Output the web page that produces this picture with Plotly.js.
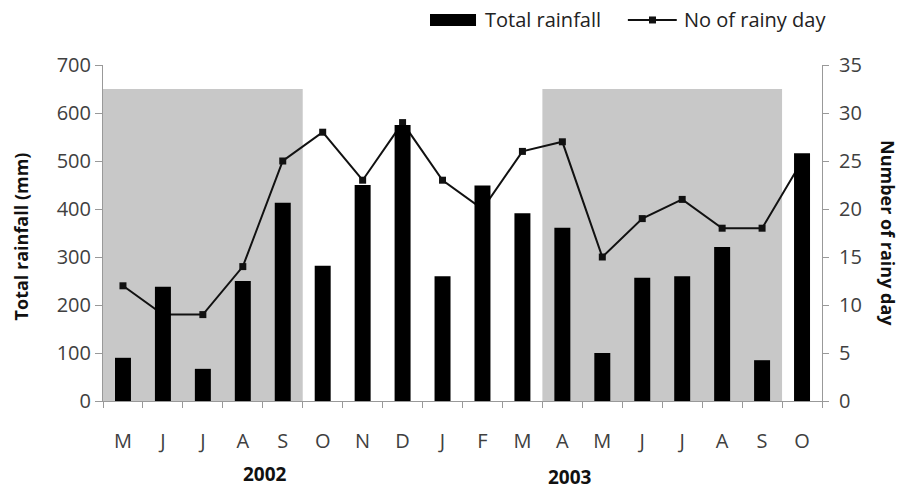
<!DOCTYPE html>
<html>
<head>
<meta charset="utf-8">
<script src="https://cdn.plot.ly/plotly-3.0.1.min.js"></script>
<style>html,body{margin:0;padding:0;background:#fff;}#chart{width:904px;height:489px;}</style>
</head>
<body>
<div id="chart"></div>
<script>
const months = ['M','J','J','A','S','O','N','D','J','F','M','A','M','J','J','A','S','O'];
const totalRainfall = [90, 238, 67, 250, 413, 282, 450, 575, 260, 449, 391, 361, 100, 257, 260, 321, 85, 516];
const rainyDays = [12, 9, 9, 14, 25, 28, 23, 29, 23, 20, 26, 27, 15, 19, 21, 18, 18, 25];
const years = ['2002', '2003'];
const shadedPeriods = [[0, 4], [11, 16]];
const shadeTop = 650;
const seriesNames = ['Total rainfall', 'No of rainy day'];

const xs = months.map((_, i) => i);
const font = 'Open Sans, Noto Sans, sans-serif';

const traces = [
  {
    type: 'scatter', mode: 'lines+markers', name: seriesNames[1],
    x: xs, y: rainyDays, yaxis: 'y',
    line: {color: '#111', width: 2},
    marker: {symbol: 'square', size: 7, color: '#111'}
  },
  {
    type: 'bar', name: seriesNames[0],
    x: xs, y: totalRainfall, yaxis: 'y2',
    width: 0.4,
    marker: {color: '#000', line: {width: 0}}
  }
];

const shapes = shadedPeriods.map(p => ({
  type: 'rect', xref: 'x', yref: 'y2', layer: 'below',
  x0: p[0] - 0.5, x1: p[1] + 0.5, y0: 0, y1: shadeTop,
  fillcolor: '#c8c8c8', line: {width: 0}
}));
// legend glyphs (paper coords)
shapes.push(
  {type: 'rect', xref: 'paper', yref: 'paper', x0: 0.4548, x1: 0.5188, y0: 1.116, y1: 1.152,
   fillcolor: '#000', line: {width: 0}},
  {type: 'line', xref: 'paper', yref: 'paper', x0: 0.730, x1: 0.798, y0: 1.134, y1: 1.134,
   line: {color: '#111', width: 2}},
  {type: 'rect', xref: 'paper', yref: 'paper', x0: 0.7594, x1: 0.7691, y0: 1.1236, y1: 1.1444,
   fillcolor: '#111', line: {width: 0}}
);

const axisFont = {size: 20, color: '#404040'};

const layout = {
  width: 904, height: 489,
  margin: {l: 103, r: 82, t: 65, b: 88},
  paper_bgcolor: '#fff', plot_bgcolor: 'rgba(0,0,0,0)',
  font: {family: font, color: '#333', size: 16},
  showlegend: false,
  xaxis: {
    range: [-0.5, 17.5], tickmode: 'array', tickvals: xs, ticktext: months,
    ticks: '', showgrid: false, zeroline: false,
    showline: true, linecolor: '#999', linewidth: 1,
    ticklabelstandoff: 22, tickfont: axisFont,
    minor: {tickmode: 'linear', tick0: -0.5, dtick: 1, ticks: 'outside', ticklen: 6, tickcolor: '#999', showgrid: false}
  },
  yaxis2: {
    overlaying: 'y', side: 'left', range: [0, 700], dtick: 100,
    showgrid: false, zeroline: false, showline: true, linecolor: '#999',
    ticks: 'outside', ticklen: 7, tickcolor: '#999', tickfont: axisFont
  },
  yaxis: {
    side: 'right', range: [0, 35], dtick: 5,
    showgrid: false, zeroline: false, showline: true, linecolor: '#999',
    ticks: 'outside', ticklen: 6, tickcolor: '#999', tickfont: axisFont,
    ticklabelstandoff: 6
  },
  shapes: shapes,
  annotations: [
    {text: '<b>Total rainfall (mm)</b>', xref: 'paper', yref: 'paper', x: -0.114, y: 0.49,
     xanchor: 'center', yanchor: 'middle', textangle: -90, showarrow: false,
     font: {size: 18, color: '#111'}},
    {text: '<b>Number of rainy day</b>', xref: 'paper', yref: 'paper', x: 1.0918, y: 0.5,
     xanchor: 'center', yanchor: 'middle', textangle: 90, showarrow: false,
     font: {size: 18, color: '#111'}},
    {text: '<b>' + years[0] + '</b>', xref: 'x', yref: 'paper', x: 3.55, y: -0.217,
     xanchor: 'center', yanchor: 'middle',
     showarrow: false, font: {size: 19, color: '#111'}},
    {text: '<b>' + years[1] + '</b>', xref: 'x', yref: 'paper', x: 11.2, y: -0.226,
     xanchor: 'center', yanchor: 'middle',
     showarrow: false, font: {size: 19, color: '#111'}},
    {text: seriesNames[0], xref: 'paper', yref: 'paper', x: 0.5285, y: 1.134,
     xanchor: 'left', yanchor: 'middle', showarrow: false, font: {size: 20, color: '#222'}},
    {text: seriesNames[1], xref: 'paper', yref: 'paper', x: 0.8053, y: 1.134,
     xanchor: 'left', yanchor: 'middle', showarrow: false, font: {size: 20, color: '#222'}}
  ]
};

Plotly.newPlot('chart', traces, layout, {displayModeBar: false, staticPlot: true});
</script>
</body>
</html>
